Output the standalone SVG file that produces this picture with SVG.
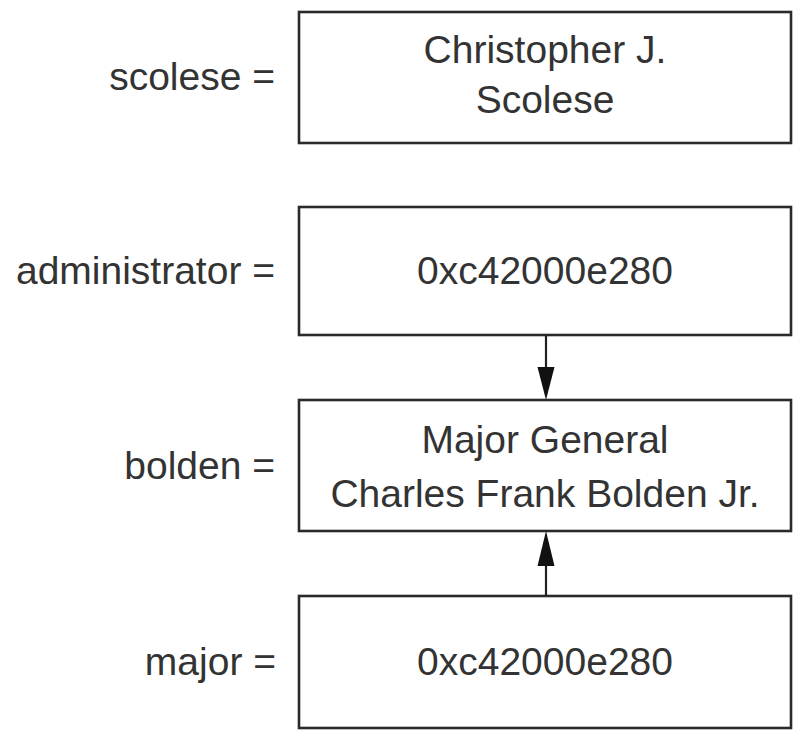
<svg xmlns="http://www.w3.org/2000/svg" width="802" height="736" viewBox="0 0 802 736">
<defs>
<style>
.box{fill:#fff;stroke:#2a2a2a;stroke-width:2.6}
.t{font-family:"Liberation Sans",Arial,sans-serif;font-size:39px;fill:#333}
.v{text-anchor:middle}
.l{text-anchor:end}
.c{stroke:#222;stroke-width:2.2;fill:none}
</style>
<marker id="ah" markerUnits="userSpaceOnUse" markerWidth="18" markerHeight="34" refX="17" refY="9" orient="auto" viewBox="0 0 34 18">
<path d="M0,0 L34,9 L0,18 Z" fill="#111"/>
</marker>
</defs>
<rect width="802" height="736" fill="#fff"/>
<g id="scolese">
<rect class="box" x="299" y="12" width="492" height="131"/>
<text class="t l" x="275" y="90">scolese =</text>
<text class="t v" x="545" y="63">Christopher J.</text>
<text class="t v" x="545" y="113">Scolese</text>
</g>
<g id="administrator">
<rect class="box" x="299" y="207" width="492" height="128"/>
<text class="t l" x="275" y="284">administrator =</text>
<text class="t v" x="545" y="284">0xc42000e280</text>
</g>
<g id="bolden">
<rect class="box" x="299" y="400" width="492" height="131"/>
<text class="t l" x="275" y="479">bolden =</text>
<text class="t v" x="545" y="453">Major General</text>
<text class="t v" x="545" y="507">Charles Frank Bolden Jr.</text>
</g>
<g id="major">
<rect class="box" x="299" y="596" width="492" height="132"/>
<text class="t l" x="276" y="675">major =</text>
<text class="t v" x="545" y="675">0xc42000e280</text>
</g>
<g id="connectors">
<line class="c" x1="546" y1="335" x2="546" y2="384"/>
<path d="M537.5,367 L546,400 L554.5,367 Z" fill="#111"/>
<line class="c" x1="546" y1="596" x2="546" y2="550"/>
<path d="M537.5,566 L546,531 L554.5,566 Z" fill="#111"/>
</g>
</svg>
